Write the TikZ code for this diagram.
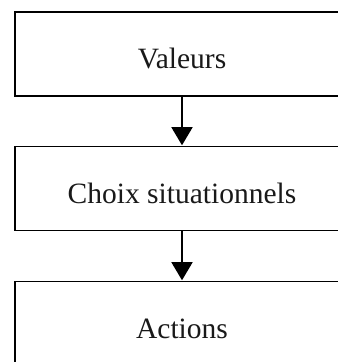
\documentclass[tikz,border=0pt]{standalone}
\usepackage{fontspec}
\setmainfont{Liberation Serif}
\usetikzlibrary{arrows.meta}
\begin{document}
\begin{tikzpicture}[x=1bp,y=1bp,
  box/.style={draw=black, line width=1.5bp, minimum width=334bp, minimum height=84bp, inner sep=0pt,
    text height=29bp, text depth=0bp,
    font=\fontsize{29.5bp}{34bp}\selectfont, text=black!90},
  link/.style={draw=black, line width=1.5bp, -{Triangle[width=21bp,length=18bp]}, shorten >=0.5bp}]
\clip (0,0) rectangle (338,362);
\node[box] (v) at (182,308) {Valeurs};
\node[box] (c) at (182,173.5) {Choix situationnels};
\node[box] (a) at (182,38.5) {Actions};
\draw[link] (v.south) -- (c.north);
\draw[link] (c.south) -- (a.north);
\end{tikzpicture}
\end{document}
